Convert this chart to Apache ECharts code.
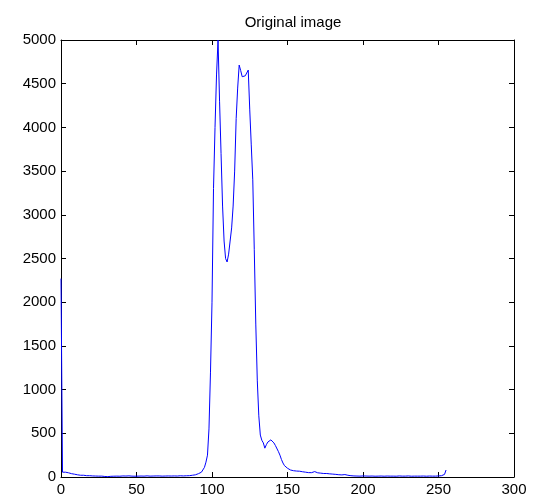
<!DOCTYPE html>
<html>
<head>
<meta charset="utf-8">
<script src="https://cdn.jsdelivr.net/npm/echarts@6/dist/echarts.min.js"></script>
<style>html,body{margin:0;padding:0;background:#fff;}#c{width:535px;height:499px;}</style>
</head>
<body>
<div id="c"></div>
<script>
const titleText = "Original image";
const xTicks = [0, 50, 100, 150, 200, 250, 300];
const yTicks = [0, 500, 1000, 1500, 2000, 2500, 3000, 3500, 4000, 4500, 5000];
// histogram counts for grey levels 0..255
const counts = [
  2270, 55, 50, 55, 45, 48, 40, 38, 35, 32,
  28, 25, 22, 20, 18, 20, 17, 15, 14, 15,
  12, 12, 10, 11, 9, 10, 8, 10, 9, 6,
  5, 4, 6, 8, 10, 9, 11, 10, 8, 9,
  10, 12, 10, 11, 9, 13, 12, 10, 11, 9,
  8, 10, 12, 11, 9, 10, 12, 13, 11, 10,
  12, 11, 10, 12, 13, 12, 11, 10, 12, 11,
  13, 12, 10, 11, 9, 12, 13, 11, 12, 14,
  13, 12, 15, 14, 16, 15, 18, 20, 22, 25,
  30, 38, 45, 55, 75, 110, 170, 250, 550, 1200,
  2000, 3300, 4000, 4600, 5000, 4300, 3700, 3100, 2700, 2500,
  2460, 2550, 2700, 2850, 3100, 3500, 4100, 4450, 4713, 4650,
  4580, 4560, 4590, 4600, 4656, 4200, 3800, 3400, 2600, 1750,
  1100, 700, 480, 420, 390, 330, 370, 400, 420, 425,
  410, 390, 360, 340, 290, 250, 200, 160, 130, 110,
  100, 90, 80, 75, 72, 70, 68, 65, 66, 62,
  60, 58, 55, 52, 50, 48, 50, 55, 62, 45,
  48, 46, 44, 42, 40, 42, 40, 38, 36, 35,
  33, 32, 30, 28, 26, 25, 24, 22, 28, 25,
  20, 18, 15, 14, 12, 13, 11, 12, 10, 11,
  12, 10, 11, 9, 10, 12, 11, 10, 9, 11,
  10, 12, 11, 10, 9, 10, 11, 12, 10, 9,
  10, 11, 9, 10, 12, 11, 10, 9, 10, 11,
  12, 10, 9, 8, 10, 11, 10, 9, 10, 12,
  11, 10, 9, 10, 11, 12, 10, 9, 10, 11,
  12, 13, 15, 18, 30, 80
];

const seriesData = counts.map((v, i) => [i, v]);
const xMin = xTicks[0], xMax = xTicks[xTicks.length - 1], xStep = xTicks[1] - xTicks[0];
const yMin = yTicks[0], yMax = yTicks[yTicks.length - 1], yStep = yTicks[1] - yTicks[0];

const font = 'Liberation Sans, Arial, sans-serif';
const tickStyle = { show: true, inside: true, length: 5, lineStyle: { color: '#000', width: 1 } };
const lineStyle = { show: true, onZero: false, lineStyle: { color: '#000', width: 1 } };
const plain = v => String(v);

const chart = echarts.init(document.getElementById('c'), null, { renderer: 'canvas' });
chart.setOption({
  animation: false,
  backgroundColor: '#fff',
  title: {
    text: titleText, left: 288, top: 10, textAlign: 'center',
    textStyle: { fontFamily: font, fontSize: 15, fontWeight: 'normal', color: '#000' }
  },
  grid: { left: 61, right: 21, top: 40, bottom: 22, containLabel: false },
  xAxis: [
    { type: 'value', min: xMin, max: xMax, interval: xStep, position: 'bottom',
      axisLine: lineStyle, axisTick: tickStyle, splitLine: { show: false },
      axisLabel: { color: '#000', fontFamily: font, fontSize: 15, margin: 5, formatter: plain } },
    { type: 'value', min: xMin, max: xMax, interval: xStep, position: 'top',
      axisLine: lineStyle, axisTick: tickStyle, splitLine: { show: false },
      axisLabel: { show: false } }
  ],
  yAxis: [
    { type: 'value', min: yMin, max: yMax, interval: yStep, position: 'left',
      axisLine: lineStyle, axisTick: tickStyle, splitLine: { show: false },
      axisLabel: { color: '#000', fontFamily: font, fontSize: 15, margin: 5, formatter: plain } },
    { type: 'value', min: yMin, max: yMax, interval: yStep, position: 'right',
      axisLine: lineStyle, axisTick: tickStyle, splitLine: { show: false },
      axisLabel: { show: false } }
  ],
  series: [{
    type: 'line', data: seriesData, showSymbol: false, symbol: 'none',
    lineStyle: { color: '#0000ff', width: 1 }, itemStyle: { color: '#0000ff' },
    clip: true
  }]
});
</script>
</body>
</html>
